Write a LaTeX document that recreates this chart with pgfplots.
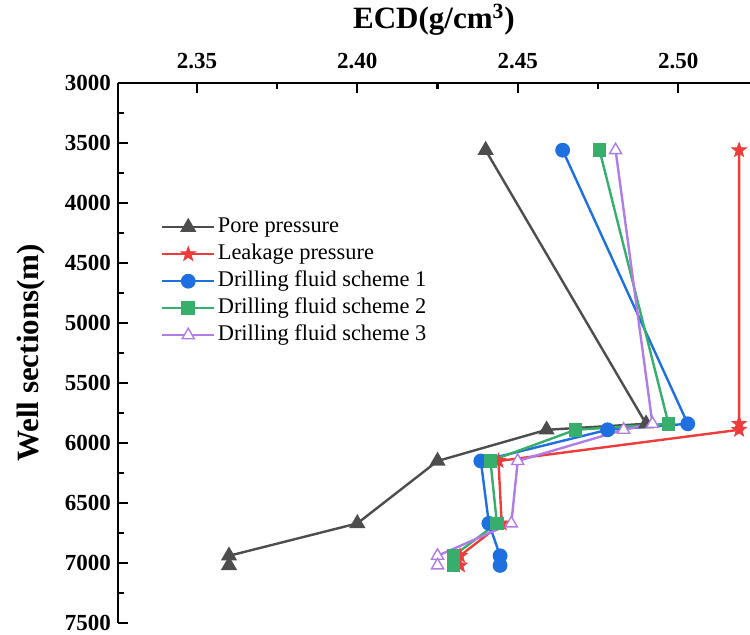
\documentclass[border=0pt]{standalone}
\usepackage{pgfplots}
\pgfplotsset{compat=1.18}
\usepackage{fontspec}
\setmainfont{Liberation Serif}
\definecolor{cpore}{HTML}{4D4D4D}
\definecolor{cred}{HTML}{EE3B3B}
\definecolor{cblue}{HTML}{1E70E0}
\definecolor{cgreen}{HTML}{38AE6C}
\definecolor{cpurple}{HTML}{B07CE6}
\pgfdeclareplotmark{fstar}{%
  \pgfpathmoveto{\pgfpointpolar{90}{1.15\pgfplotmarksize}}%
  \pgfpathlineto{\pgfpointpolar{126}{0.47\pgfplotmarksize}}%
  \pgfpathlineto{\pgfpointpolar{162}{1.15\pgfplotmarksize}}%
  \pgfpathlineto{\pgfpointpolar{198}{0.47\pgfplotmarksize}}%
  \pgfpathlineto{\pgfpointpolar{234}{1.15\pgfplotmarksize}}%
  \pgfpathlineto{\pgfpointpolar{270}{0.47\pgfplotmarksize}}%
  \pgfpathlineto{\pgfpointpolar{306}{1.15\pgfplotmarksize}}%
  \pgfpathlineto{\pgfpointpolar{342}{0.47\pgfplotmarksize}}%
  \pgfpathlineto{\pgfpointpolar{18}{1.15\pgfplotmarksize}}%
  \pgfpathlineto{\pgfpointpolar{54}{0.47\pgfplotmarksize}}%
  \pgfpathclose
  \pgfusepathqfillstroke}
\begin{document}
\begin{tikzpicture}
\begin{axis}[
  name=ax,
  scale only axis,
  width=316pt, height=270pt,
  xmin=2.3254, xmax=2.5224,
  ymin=3000, ymax=7500,
  y dir=reverse,
  axis x line*=top, axis y line*=left,
  axis line style={line width=1.1pt, -},
  xtick={2.35,2.40,2.45,2.50},
  minor xtick={2.325,2.375,2.425,2.475,2.525},
  ytick={3000,3500,...,7500},
  minor ytick={3250,3750,...,7250},
  tick align=inside,
  major tick length=5pt, minor tick length=3pt,
  every tick/.style={line width=1.1pt, black},
  /pgf/number format/assume math mode=true,
  xticklabel style={/pgf/number format/.cd, fixed, fixed zerofill, precision=2, /tikz/.cd, yshift=3.5pt},
  yticklabel style={/pgf/number format/.cd, 1000 sep={}},
  ticklabel style={font=\bfseries\fontsize{11.5}{13}\selectfont},
  xlabel={ECD(g/cm\textsuperscript{3})},
  ylabel={Well sections(m)},
  xlabel shift=2pt,
  ylabel shift=3pt,
  label style={font=\bfseries\fontsize{15.5}{18}\selectfont},
  every axis plot/.append style={line width=1.2pt},
  legend image code/.code={\draw[mark repeat=2,mark phase=2] plot coordinates {(0pt,0pt)(13pt,0pt)(26pt,0pt)};},
  legend style={draw=none, fill=none, at={(0.058,0.765)}, anchor=north west,
    font=\fontsize{11.2}{13}\selectfont, row sep=0.6pt,
    nodes={inner sep=1.2pt, text height=8pt, text depth=2.5pt}},
  legend cell align=left,
]
\addplot[color=cpore, mark=triangle*, mark size=3.5pt, mark options={solid}] coordinates {
 (2.440,3560) (2.490,5840) (2.459,5890) (2.425,6150) (2.400,6670) (2.360,6940) (2.360,7020)};
\addlegendentry{Pore pressure}
\addplot[color=cred, mark=fstar, mark size=3.3pt, mark options={solid, line width=0.4pt}] coordinates {
 (2.519,3560) (2.519,5840) (2.519,5890) (2.444,6150) (2.445,6670) (2.432,6940) (2.432,7020)};
\addlegendentry{Leakage pressure}
\addplot[color=cblue, mark=*, mark size=3.1pt, mark options={solid}] coordinates {
 (2.464,3560) (2.503,5840) (2.478,5890) (2.4385,6150) (2.441,6670) (2.4445,6940) (2.4445,7020)};
\addlegendentry{Drilling fluid scheme 1}
\addplot[color=cgreen, mark=square*, mark size=2.8pt, mark options={solid}] coordinates {
 (2.4755,3560) (2.497,5840) (2.468,5890) (2.4415,6150) (2.4435,6670) (2.430,6940) (2.430,7020)};
\addlegendentry{Drilling fluid scheme 2}
\addplot[color=cpurple, mark=triangle*, mark size=3.5pt, mark options={solid, fill=white, line width=0.7pt}] coordinates {
 (2.4805,3560) (2.492,5840) (2.483,5890) (2.450,6150) (2.448,6670) (2.425,6940) (2.425,7020)};
\addlegendentry{Drilling fluid scheme 3}
\end{axis}
\pgfresetboundingbox
\path ([xshift=-59pt,yshift=-6pt]ax.south west) rectangle ([yshift=41.5pt]ax.north east);
\end{tikzpicture}
\end{document}
